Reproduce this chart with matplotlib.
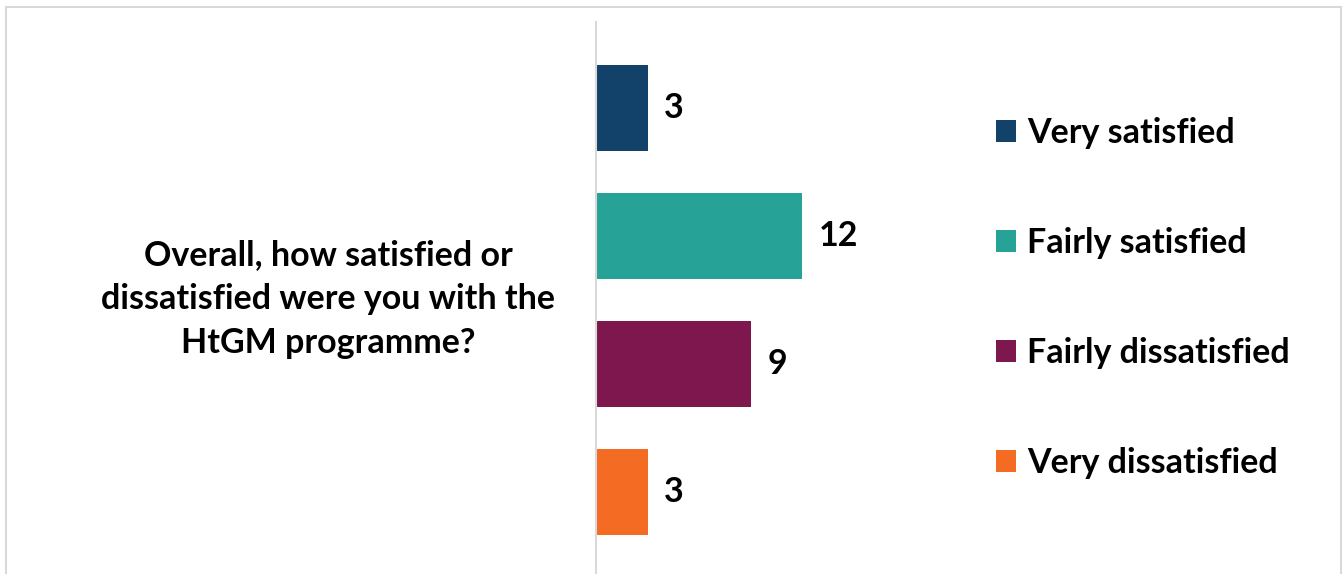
import matplotlib.pyplot as plt
from matplotlib.patches import Rectangle

question = "Overall, how satisfied or\ndissatisfied were you with the\nHtGM programme?"
responses = ["Very satisfied", "Fairly satisfied", "Fairly dissatisfied", "Very dissatisfied"]
counts = [3, 12, 9, 3]
colors = ["#124169", "#27A297", "#7E174D", "#F46B24"]

W, H = 1343, 574
FS = 24.5
plt.rcParams['font.family'] = ['Lato', 'DejaVu Sans']
plt.rcParams['font.weight'] = 'bold'

fig = plt.figure(figsize=(W / 100, H / 100), dpi=100)
ax = fig.add_axes([596 / W, 0, 344 / W, (574 - 22) / H])

bars = []
for i, (lab, val, col) in enumerate(zip(responses, counts, colors)):
    b = ax.barh(i, val, height=0.67, color=col, label=lab)
    ax.bar_label(b, padding=12, fontsize=FS, fontweight='bold', color='black')
    bars.append(b)

ax.set_xlim(0, 20)
ax.set_ylim(3.64, -0.672)
ax.set_xticks([])
ax.set_yticks([])
for s in ['top', 'right', 'bottom']:
    ax.spines[s].set_visible(False)
ax.spines['left'].set_color('#D9D9D9')
ax.spines['left'].set_linewidth(1.5)

fig.text(328 / W, 1 - 299 / H, question, ha='center', va='center',
         fontsize=FS, fontweight='bold', linespacing=1.45)

px = FS * 100 / 72
fig.legend(handles=bars, labels=responses, loc='center left',
           bbox_to_anchor=((996 - 0.9 * px) / W, 1 - 298 / H), frameon=False,
           prop={'weight': 'bold', 'size': FS},
           handlelength=0.6, handleheight=0.6, handletextpad=0.32,
           labelspacing=(112 - px) / px)

fig.patches.append(Rectangle((6 / W, -0.05), (1341 - 6) / W, 1 - 7 / H + 0.05,
                             transform=fig.transFigure, fill=False,
                             edgecolor='#D9D9D9', linewidth=1.5))

fig.savefig("out.png", dpi=100)
